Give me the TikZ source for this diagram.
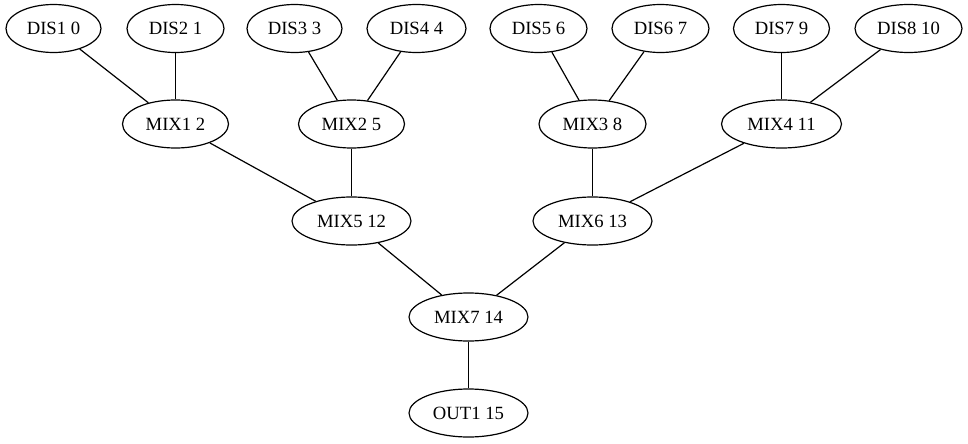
\documentclass[tikz,border=0pt]{standalone}
\usepackage{fontspec}
\setmainfont{Liberation Serif}
\usetikzlibrary{shapes.geometric}
\begin{document}
\begin{tikzpicture}[x=0.75pt,y=-0.75pt,
  nd/.style={draw,ellipse,line width=0.9pt,inner sep=0pt,minimum height=36pt,
    font=\fontsize{14pt}{16pt}\selectfont},
  ln/.style={line width=0.9pt}]
\useasboundingbox (0,0) rectangle (968,443);
% row 1
\node[nd,minimum width=71.25pt] (d1) at (53.5,28.5) {DIS1 0};
\node[nd,minimum width=72.75pt] (d2) at (175.5,28.5) {DIS2 1};
\node[nd,minimum width=71.25pt] (d3) at (294.5,28.5) {DIS3 3};
\node[nd,minimum width=74.25pt] (d4) at (416.5,28.5) {DIS4 4};
\node[nd,minimum width=72.75pt] (d5) at (538.5,28.5) {DIS5 6};
\node[nd,minimum width=72.75pt] (d6) at (660.5,28.5) {DIS6 7};
\node[nd,minimum width=72pt] (d7) at (781.5,28.5) {DIS7 9};
\node[nd,minimum width=80.25pt] (d8) at (908.5,28.5) {DIS8 10};
% row 2
\node[nd,minimum width=79.5pt] (m1) at (175.5,124) {MIX1 2};
\node[nd,minimum width=79.5pt] (m2) at (351.5,124) {MIX2 5};
\node[nd,minimum width=80.25pt] (m3) at (592.5,124) {MIX3 8};
\node[nd,minimum width=90pt] (m4) at (781.5,124) {MIX4 11};
% row 3
\node[nd,minimum width=89.25pt] (m5) at (351.5,221) {MIX5 12};
\node[nd,minimum width=89.25pt] (m6) at (592.5,221) {MIX6 13};
% row 4
\node[nd,minimum width=89.25pt] (m7) at (468.5,317) {MIX7 14};
% row 5
\node[nd,minimum width=89.25pt] (o1) at (468.5,413) {OUT1 15};
% edges
\draw[ln] (d1) -- (m1);
\draw[ln] (d2) -- (m1);
\draw[ln] (d3) -- (m2);
\draw[ln] (d4) -- (m2);
\draw[ln] (d5) -- (m3);
\draw[ln] (d6) -- (m3);
\draw[ln] (d7) -- (m4);
\draw[ln] (d8) -- (m4);
\draw[ln] (m1) -- (m5);
\draw[ln] (m2) -- (m5);
\draw[ln] (m3) -- (m6);
\draw[ln] (m4) -- (m6);
\draw[ln] (m5) -- (m7);
\draw[ln] (m6) -- (m7);
\draw[ln] (m7) -- (o1);
\end{tikzpicture}
\end{document}
